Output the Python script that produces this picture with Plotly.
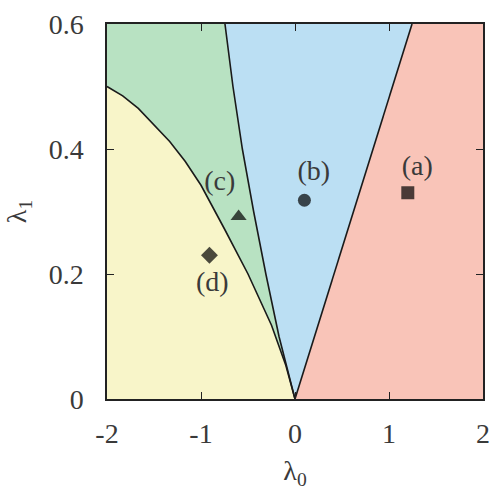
import plotly.graph_objects as go

# Boundary between (d) and (c): curve from lambda0=-2 to the origin
curve_l0 = [-2.0, -1.833, -1.667, -1.333, -1.167, -1.0, -0.75, -0.5, -0.25, -0.1, 0.0]
curve_l1 = [0.5, 0.485, 0.465, 0.412, 0.38, 0.342, 0.272, 0.2, 0.118, 0.055, 0.0]

# Boundary between (c) and (b)
left_l0 = [0.0, -0.17, -0.31, -0.44, -0.56, -0.66, -0.745]
left_l1 = [0.0, 0.1, 0.2, 0.3, 0.4, 0.5, 0.6]

# Boundary between (b) and (a)
right_l0 = [0.0, 1.245]
right_l1 = [0.0, 0.6]

# Marker points
pt_labels = ["(a)", "(b)", "(c)", "(d)"]
pt_l0 = [1.2, 0.1, -0.6, -0.91]
pt_l1 = [0.33, 0.318, 0.292, 0.23]
pt_symbols = ["square", "circle", "triangle-up", "diamond"]
lab_l0 = [1.3, 0.2, -0.8, -0.88]
lab_l1 = [0.37, 0.362, 0.345, 0.184]

xmin, xmax, ymin, ymax = -2, 2, 0, 0.6
x_ticks = [-2, -1, 0, 1, 2]
x_ticktext = ["-2", "-1", "0", "1", "2"]
y_ticks = [0, 0.2, 0.4, 0.6]
y_ticktext = ["0", "0.2", "0.4", "0.6"]

C_YEL = "#f8f5c9"
C_GRN = "#b8e2c2"
C_BLU = "#bbdff3"
C_RED = "#f9c4b8"
C_LINE = "#1a1a1a"
C_TXT = "#3a3a3a"
FONT = "Liberation Serif"
FS = 28

fig = go.Figure()

# yellow region (d)
fig.add_trace(go.Scatter(x=curve_l0 + [xmin], y=curve_l1 + [ymin], fill="toself",
                         fillcolor=C_YEL, mode="none", hoverinfo="skip"))
# green region (c)
fig.add_trace(go.Scatter(x=curve_l0 + left_l0 + [xmin], y=curve_l1 + left_l1 + [ymax],
                         fill="toself", fillcolor=C_GRN, mode="none", hoverinfo="skip"))
# blue region (b)
fig.add_trace(go.Scatter(x=left_l0 + right_l0[::-1], y=left_l1 + right_l1[::-1],
                         fill="toself", fillcolor=C_BLU, mode="none", hoverinfo="skip"))
# red region (a)
fig.add_trace(go.Scatter(x=right_l0 + [xmax, xmax], y=right_l1 + [ymax, ymin],
                         fill="toself", fillcolor=C_RED, mode="none", hoverinfo="skip"))

# boundary lines
for bx, by in [(curve_l0, curve_l1), (left_l0, left_l1), (right_l0, right_l1)]:
    fig.add_trace(go.Scatter(x=bx, y=by, mode="lines",
                             line=dict(color=C_LINE, width=1.6), hoverinfo="skip"))

# markers
fig.add_trace(go.Scatter(x=pt_l0, y=pt_l1, mode="markers",
                         marker=dict(symbol=pt_symbols, size=[13, 13, 14, 13], color="black",
                                     line=dict(width=0))))
# labels
fig.add_trace(go.Scatter(x=lab_l0, y=lab_l1, mode="text", text=pt_labels,
                         textfont=dict(family=FONT, size=FS, color=C_TXT)))

axis_common = dict(
    showgrid=False, zeroline=False, showline=True, linecolor="#222222", linewidth=1.5,
    mirror="allticks", ticks="inside", ticklen=7, tickwidth=1.3, tickcolor="#222222",
    tickfont=dict(family=FONT, size=FS, color=C_TXT), automargin=False,
)

fig.update_layout(
    width=494, height=492,
    margin=dict(l=107, r=11, t=24, b=93),
    paper_bgcolor="white", plot_bgcolor="white",
    showlegend=False,
    font=dict(family=FONT),
    xaxis=dict(range=[xmin, xmax], tickvals=x_ticks, ticktext=x_ticktext,
               ticklabelstandoff=9,
               title=dict(text="λ<sub>0</sub>", standoff=12,
                          font=dict(family=FONT, size=FS, color=C_TXT)),
               **axis_common),
    yaxis=dict(range=[ymin, ymax], tickvals=y_ticks, ticktext=y_ticktext,
               ticklabelstandoff=16,
               title=dict(text="λ<sub>1</sub>", standoff=14,
                          font=dict(family=FONT, size=FS, color=C_TXT)),
               **axis_common),
)

fig.write_html("out.html")
